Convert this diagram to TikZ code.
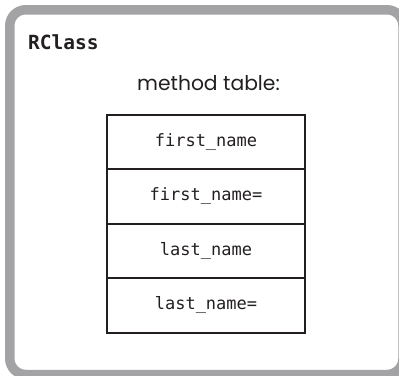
\documentclass[tikz,border=0pt]{standalone}
\usepackage{fontspec}
\setmainfont{Poppins}
\setmonofont{DejaVu Sans Mono}
\definecolor{framegray}{HTML}{A3A3A6}
\definecolor{ink}{HTML}{231F20}
\begin{document}
\begin{tikzpicture}[x=1pt,y=-1pt,
  cell/.style={draw=ink,line width=2pt,minimum width=198pt,minimum height=54.5pt,inner sep=0pt,outer sep=0pt,
    font=\ttfamily\fontsize{17}{19}\selectfont,text=ink},
  outerframe/.style={draw=framegray,line width=9.5pt,rounded corners=16pt}]
\useasboundingbox (0,0) rectangle (399,375);
\clip (0,0) rectangle (399,375);
\draw[outerframe] (9.75,9.75) rectangle (403,374.5);
\node[anchor=base west,font=\ttfamily\bfseries\fontsize{19.5}{21}\selectfont,text=ink,inner sep=0pt] (title) at (28,49) {RClass};
\node[anchor=base,font=\fontsize{20.3}{22}\selectfont,text=ink,inner sep=0pt] (mt) at (208.5,90) {method table:};
\node[cell] (r1) at (206,141.75) {first\_name};
\node[cell,anchor=north] (r2) at (r1.south) {first\_name=};
\node[cell,anchor=north] (r3) at (r2.south) {last\_name};
\node[cell,anchor=north] (r4) at (r3.south) {last\_name=};
\end{tikzpicture}
\end{document}
